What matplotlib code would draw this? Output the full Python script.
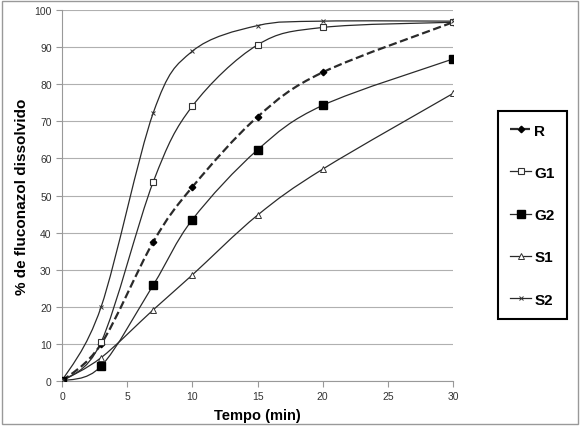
import numpy as np
import matplotlib.pyplot as plt
from matplotlib.path import Path
from matplotlib.patches import PathPatch, Rectangle
from matplotlib.lines import Line2D

plt.rcParams['font.family'] = ['Liberation Sans', 'DejaVu Sans']

# tempo (min)
tempo = [0, 3, 7, 10, 15, 20, 30]

# % dissolvido por formulacao
r_vals = [0, 10.0, 37.5, 52.3, 71.2, 83.2, 96.7]
g1_vals = [0, 10.5, 53.7, 74.1, 90.6, 95.3, 96.7]
g2_vals = [0, 4.0, 25.9, 43.5, 62.3, 74.3, 86.8]
s1_vals = [0, 6.3, 19.2, 28.6, 44.7, 57.1, 77.5]
s2_vals = [0, 20.0, 72.3, 88.9, 95.8, 97.0, 97.0]

labels = ['R', 'G1', 'G2', 'S1', 'S2']


def smooth_path(x, y):
    # curva suavizada tipo Excel (Catmull-Rom -> Bezier)
    p = np.column_stack([x, y]).astype(float)
    n = len(p)
    verts = [p[0]]
    codes = [Path.MOVETO]
    for i in range(n - 1):
        p0 = p[i - 1] if i > 0 else p[i]
        p3 = p[i + 2] if i + 2 < n else p[i + 1]
        c1 = p[i] + (p[i + 1] - p0) / 6
        c2 = p[i + 1] - (p3 - p[i]) / 6
        verts += [c1, c2, p[i + 1]]
        codes += [Path.CURVE4] * 3
    return Path(verts, codes)


fig = plt.figure(figsize=(5.8, 4.27), dpi=100)
ax = fig.add_axes([0.107, 0.1054, 0.674, 0.8688])

styles = [
    (r_vals, dict(ls='--', lw=1.6), dict(marker='D', ms=3.3, mfc='black', mec='black')),
    (g1_vals, dict(ls='-', lw=0.9), dict(marker='s', ms=4.2, mfc='white', mec='#333333', mew=0.8)),
    (g2_vals, dict(ls='-', lw=0.9), dict(marker='s', ms=5.3, mfc='black', mec='black')),
    (s1_vals, dict(ls='-', lw=0.9), dict(marker='^', ms=3.8, mfc='white', mec='#333333', mew=0.7)),
    (s2_vals, dict(ls='-', lw=0.9), dict(marker='x', ms=3.3, mec='#333333', mew=0.7)),
]

handles = []
for (vals, lstyle, mstyle), lab in zip(styles, labels):
    patch = PathPatch(smooth_path(tempo, vals), fill=False, edgecolor='#2a2a2a',
                      linestyle=lstyle['ls'], linewidth=lstyle['lw'], zorder=3)
    ax.add_patch(patch)
    ax.plot(tempo, vals, ls='none', zorder=4, **mstyle)
    handles.append(Line2D([], [], color='#2a2a2a', ls=lstyle['ls'], lw=lstyle['lw'], **mstyle))

ax.set_xlim(0, 30)
ax.set_ylim(0, 100)
ax.set_xticks(range(0, 31, 5))
ax.set_yticks(range(0, 101, 10))
ax.grid(axis='y', color='#b0b0b0', lw=0.8)
ax.set_axisbelow(True)
for side in ['top', 'right']:
    ax.spines[side].set_visible(False)
for side in ['left', 'bottom']:
    ax.spines[side].set_color('#999999')
ax.tick_params(labelsize=7.5, colors='#333333', length=4, color='#999999')
ax.set_xlabel('Tempo (min)', fontsize=10.5, fontweight='bold', labelpad=5)
ax.set_ylabel('% de fluconazol dissolvido', fontsize=11, fontweight='bold', labelpad=4)

leg = fig.legend(handles, labels, loc='center', bbox_to_anchor=(0.918, 0.494),
                 prop={'size': 11, 'weight': 'bold'}, labelspacing=1.85,
                 handlelength=1.4, handletextpad=0.2, borderpad=0.8,
                 fancybox=False, framealpha=1)
leg.get_frame().set_edgecolor('black')
leg.get_frame().set_linewidth(1.5)

fig.patches.append(Rectangle((0.004, 0.004), 0.992, 0.992, transform=fig.transFigure,
                             fill=False, edgecolor='#999999', lw=1))

fig.savefig('out.png', dpi=100)
